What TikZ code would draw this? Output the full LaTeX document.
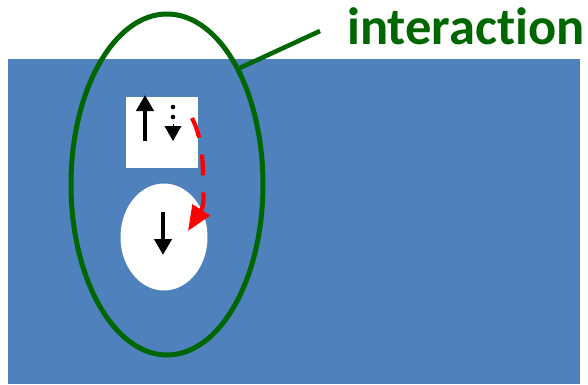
\documentclass[tikz,border=0pt]{standalone}
\usepackage{fontspec}
\setmainfont{Carlito}[Ligatures={NoCommon,NoRequired,NoContextual}]
\usetikzlibrary{shapes.geometric,arrows.meta}
\definecolor{bluebg}{HTML}{4F81BD}
\definecolor{dgreen}{HTML}{006600}
\begin{document}
\begin{tikzpicture}[x=1pt,y=-1pt,
  spinarrow/.style={line width=4pt,-{Triangle[length=16pt,width=17pt]}},
  greenline/.style={draw=dgreen,line width=4.5pt},
  redarrow/.style={draw=red,line width=4.2pt,dash pattern=on 21pt off 17pt,-{Triangle[length=25pt,width=20pt]}}]
\useasboundingbox (0,0) rectangle (588,384);
\fill[bluebg] (8,59) rectangle (580,384);
\node[fill=white,minimum width=72pt,minimum height=71pt,inner sep=0pt] (box) at (162,132.5) {};
\node[fill=white,ellipse,minimum width=87pt,minimum height=107pt,inner sep=0pt] (site) at (164,237) {};
\coordinate (upS) at (145,141);
\coordinate (upE) at (145,95);
\draw[spinarrow] (upS) -- (upE);
\fill (173,107) circle (2.3pt) coordinate (d1);
\fill (173,117) circle (2.3pt) coordinate (d2);
\coordinate (dnS) at (173,124);
\coordinate (dnE) at (173,141);
\draw[line width=0pt,-{Triangle[length=15pt,width=17pt]}] (dnS) -- (dnE);
\coordinate (ciS) at (163,212);
\coordinate (ciE) at (163,255);
\draw[spinarrow] (ciS) -- (ciE);
\coordinate (rS) at (192,118);
\coordinate (rE) at (188,231);
\draw[redarrow] (rS) .. controls (201,136) and (203,155) .. (203,180) .. controls (203,195) and (205,204) .. (rE);
\node[draw=dgreen,line width=5pt,ellipse,minimum width=192pt,minimum height=341pt,inner sep=0pt] (inter) at (167,184.5) {};
\node[anchor=base west,inner sep=0pt,text=dgreen,font=\fontsize{52.5}{52.5}\selectfont\bfseries] (lbl) at (347,44) {interaction};
\coordinate (lS) at (320,31);
\draw[greenline] (lS) -- (inter.58);
\end{tikzpicture}
\end{document}
